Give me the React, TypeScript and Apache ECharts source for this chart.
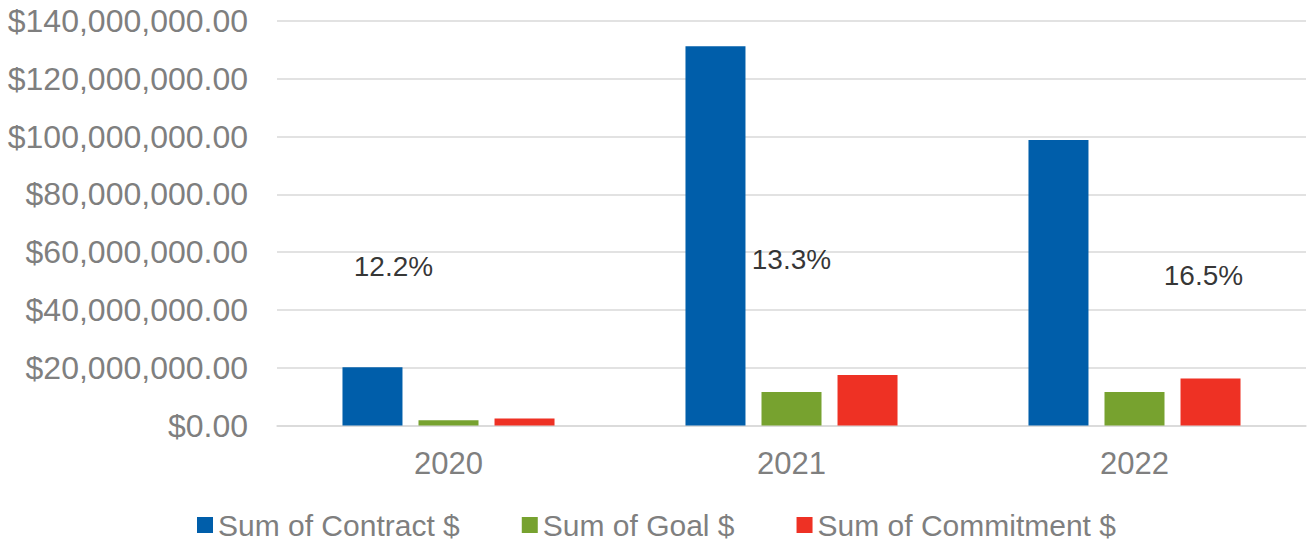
import React, { useEffect, useRef } from "react";
import * as echarts from "echarts";

const categories = ["2020", "2021", "2022"];
const contract = [20200000, 131300000, 98800000];
const goal = [1800000, 11600000, 11600000];
const commitment = [2460000, 17500000, 16300000];
const pctLabels = ["12.2%", "13.3%", "16.5%"];
const pctLabelValues = [54900000, 57300000, 51800000];
const pctLabelOffsets = [-55, 0, 69];

export default function App() {
  const ref = useRef<HTMLDivElement>(null);
  useEffect(() => {
    const chart = echarts.init(ref.current!, null, { renderer: "svg" });
    const font = "Liberation Sans, Arial, sans-serif";
    chart.setOption({
      animation: false,
      textStyle: { fontFamily: font },
      grid: { left: 277, right: 3, top: 21, bottom: 115.5, containLabel: false },
      legend: {
        top: 504,
        left: 192,
        itemWidth: 16,
        itemHeight: 16,
        itemGap: 62,
        icon: "rect",
        textStyle: { fontSize: 30, lineHeight: 32, color: "#7f7f7f", fontFamily: font },
        data: ["Sum of Contract $", "Sum of Goal $", "Sum of Commitment $"],
      },
      xAxis: {
        type: "category",
        data: categories,
        axisLine: { show: true, lineStyle: { color: "#d9d9d9", width: 1.5 } },
        axisTick: { show: false },
        axisLabel: { fontSize: 31, color: "#7f7f7f", margin: 22, fontFamily: font },
      },
      yAxis: {
        type: "value",
        min: 0,
        max: 140000000,
        interval: 20000000,
        axisLine: { show: false },
        axisTick: { show: false },
        splitLine: { lineStyle: { color: "#d9d9d9", width: 1.5 } },
        axisLabel: {
          fontSize: 32,
          color: "#7f7f7f",
          margin: 29,
          fontFamily: font,
          formatter: (v: number) =>
            "$" + v.toLocaleString("en-US", { minimumFractionDigits: 2, maximumFractionDigits: 2 }),
        },
      },
      series: [
        {
          name: "Sum of Contract $",
          type: "bar",
          data: contract,
          barWidth: 60,
          barGap: "26.7%",
          itemStyle: { color: "#005eaa" },
        },
        {
          name: "Sum of Goal $",
          type: "bar",
          data: goal,
          barWidth: 60,
          barGap: "26.7%",
          itemStyle: { color: "#77a22f" },
        },
        {
          name: "Sum of Commitment $",
          type: "bar",
          data: commitment,
          barWidth: 60,
          barGap: "26.7%",
          itemStyle: { color: "#ee3124" },
        },
        {
          name: "pct",
          type: "scatter",
          symbolSize: 0,
          silent: true,
          data: categories.map((c, i) => ({
            value: [c, pctLabelValues[i]],
            label: {
              show: true,
              position: "inside",
              offset: [pctLabelOffsets[i], 0],
              formatter: pctLabels[i],
              fontSize: 28,
              color: "#000000",
              fontFamily: font,
            },
          })),
        },
      ],
    });
    return () => chart.dispose();
  }, []);
  return (
    <div
      ref={ref}
      style={{ position: "absolute", left: 0, top: 0, width: 1309, height: 541 }}
    />
  );
}
